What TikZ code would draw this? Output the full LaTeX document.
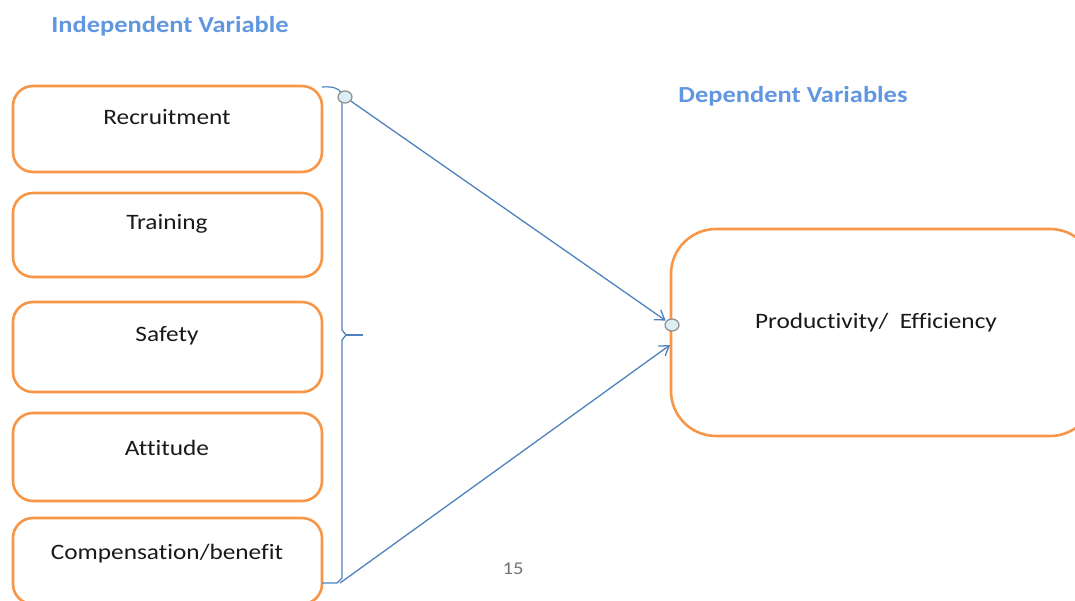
\documentclass[tikz,border=0pt]{standalone}
\usepackage{fontspec}
\setmainfont{Carlito}[FakeStretch=1.15,Ligatures=NoCommon]
\usetikzlibrary{arrows.meta,shapes.geometric}
\definecolor{boxorange}{HTML}{F79646}
\definecolor{linkblue}{HTML}{4F81BD}
\definecolor{headblue}{HTML}{6196E0}
\definecolor{dotfill}{HTML}{DAEEF3}
\definecolor{dotedge}{HTML}{8C8C8C}
\begin{document}
\begin{tikzpicture}[x=1pt,y=-1pt,
  varbox/.style={draw=boxorange,line width=2.6pt,rounded corners=20pt,fill=white},
  boxtext/.style={font=\fontsize{22}{26}\selectfont,text=black!90},
  heading/.style={font=\bfseries\fontsize{23}{27}\selectfont,text=headblue},
  link/.style={draw=linkblue,line width=1.3pt},
  linkarrow/.style={link,-{Straight Barb[length=9pt,width=12pt,line width=1.3pt]}},
  dot/.style={ellipse,draw=dotedge,fill=dotfill,line width=1.2pt,minimum width=14pt,minimum height=12pt,inner sep=0pt}
]
\useasboundingbox (0,0) rectangle (1075,600);
\clip (0,0) rectangle (1075,600);

% headings and page number
\node[heading] (hind) at (170,26) {Independent Variable};
\node[heading] (hdep) at (793,96) {Dependent Variables};
\node[font=\fontsize{18}{21}\selectfont,text=black!55] (page) at (513,569) {15};

% independent variable boxes
\draw[varbox] (13,86) rectangle (322,172);
\draw[varbox] (13,193) rectangle (322,277);
\draw[varbox] (13,302) rectangle (322,392);
\draw[varbox] (13,413) rectangle (322,501);
\draw[varbox] (13,518) rectangle (322,604);
\node[boxtext] (recr) at (167,117) {Recruitment};
\node[boxtext] (train) at (167,224) {Training};
\node[boxtext] (safe) at (167,336) {Safety};
\node[boxtext] (att) at (167,448) {Attitude};
\node[boxtext] (comp) at (167,554) {Compensation/benefit};

% dependent variable box
\draw[varbox,rounded corners=45pt] (671,229) rectangle (1095,436);
\node[boxtext] (prod) at (876,323) {Productivity/\ \ Efficiency};

% brace grouping the independent variables
\draw[link,line width=1.2pt] (322,87) .. controls (334,86) and (342,89) .. (342,97)
  -- (342,330) -- (346,335) -- (342,340) -- (342,578) -- (337,583) -- (322,583);
\draw[link,line width=1.2pt] (346,335) -- (363,335);

% connectors to the dependent variable
\coordinate (bottomend) at (340,583);
\coordinate (inlet) at (670,345);
\node[dot] (dtop) at (345,97) {};
\node[dot] (dright) at (672,325) {};
\draw[linkarrow,shorten >=0.5pt] (dtop) -- (dright);
\draw[linkarrow] (bottomend) -- (inlet);
\end{tikzpicture}
\end{document}
